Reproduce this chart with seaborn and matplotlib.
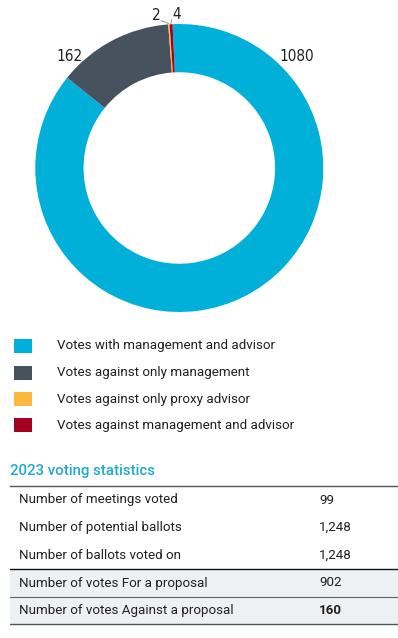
import numpy as np
import matplotlib
matplotlib.use("Agg")
import matplotlib.pyplot as plt
from matplotlib.patches import Rectangle
import seaborn as sns

# ------------------------------------------------------------------------------
# 1) DATA
# ------------------------------------------------------------------------------
vote_categories = ['Votes with management and advisor',
                   'Votes against only management',
                   'Votes against only proxy advisor',
                   'Votes against management and advisor']
vote_counts = [1080, 162, 2, 4]
vote_colors = ['#00b0d8', '#46535e', '#f8b73f', '#a1001e']

stat_labels = ['Number of meetings voted',
               'Number of potential ballots',
               'Number of ballots voted on',
               'Number of votes For a proposal',
               'Number of votes Against a proposal']
stat_values = ['99', '1,248', '1,248', '902', '160']
table_title = '2023 voting statistics'

# ------------------------------------------------------------------------------
# 2) STYLE
# ------------------------------------------------------------------------------
sns.set_theme(style="white")
plt.rcParams['font.family'] = ['Roboto', 'DejaVu Sans']
text_color = '#231f20'

W, H = 398, 638
fig = plt.figure(figsize=(W / 100, H / 100), dpi=100)

# ------------------------------------------------------------------------------
# 3) DONUT
# ------------------------------------------------------------------------------
cx, cy, rad = 179.3, 168, 144
ax = fig.add_axes([(cx - rad) / W, (H - cy - rad) / H, 2 * rad / W, 2 * rad / H])
wedges, _ = ax.pie(vote_counts, colors=sns.color_palette(vote_colors), startangle=92.7,
                   counterclock=False, radius=1,
                   wedgeprops=dict(width=0.335, linewidth=0))
ax.set_xlim(-1, 1)
ax.set_ylim(-1, 1)
ax.set_axis_off()

# label placement (angle in degrees, radius in data units)
label_pos = [(43.3, 1.125), (134.6, 1.085), (98.6, 1.07), (91.0, 1.065)]
for w, val, (ang, r) in zip(wedges, vote_counts, label_pos):
    a = np.deg2rad(ang)
    tx, ty = r * np.cos(a), r * np.sin(a)
    ax.text(tx, ty, str(val), ha='center', va='center', fontsize=11,
            color=text_color, family='DejaVu Sans', fontstretch='condensed',
            clip_on=False)
    if val < 10:
        mid = np.deg2rad((w.theta1 + w.theta2) / 2)
        ex, ey = 1.0 * np.cos(mid), 1.0 * np.sin(mid)
        sx = tx + (0.035 if tx < ex else -0.035)
        ax.plot([sx, ex], [ty - 0.035, ey + 0.005], color='#9aa3aa', lw=0.8,
                clip_on=False)

# ------------------------------------------------------------------------------
# 4) LEGEND + TABLE (pixel coordinates overlay)
# ------------------------------------------------------------------------------
ov = fig.add_axes([0, 0, 1, 1])
ov.set_xlim(0, W)
ov.set_ylim(H, 0)
ov.set_axis_off()
ov.patch.set_alpha(0)

legend_y = [346, 372.5, 399, 425]
for y, lab, col in zip(legend_y, vote_categories, vote_colors):
    ov.add_patch(Rectangle((14, y - 7), 18, 14, color=col, lw=0))
    ov.text(57, y, lab, ha='left', va='center', fontsize=9.6, color=text_color)

ov.text(10, 471, table_title, ha='left', va='center', fontsize=10.8,
        color='#1fa9d6', weight='medium')

row_y = [500, 527.7, 555.3, 583, 610.5]
ov.add_patch(Rectangle((10, 569), W - 10, 55, color='#edf1f3', lw=0))
for y, lab, val in zip(row_y, stat_labels, stat_values):
    ov.text(19, y, lab, ha='left', va='center', fontsize=9.6, color=text_color)
    ov.text(319, y, val, ha='left', va='center', fontsize=9.6, color=text_color,
            weight='bold' if val == stat_values[-1] else 'normal')

ov.plot([10, W], [486, 486], color='#4a5560', lw=1.0)
ov.plot([10, W], [569, 569], color='#111111', lw=1.0)
ov.plot([10, W], [596.5, 596.5], color='#5a6570', lw=0.8)
ov.plot([10, W], [624, 624], color='#4a5560', lw=1.0)

fig.savefig('out.png', dpi=100)
